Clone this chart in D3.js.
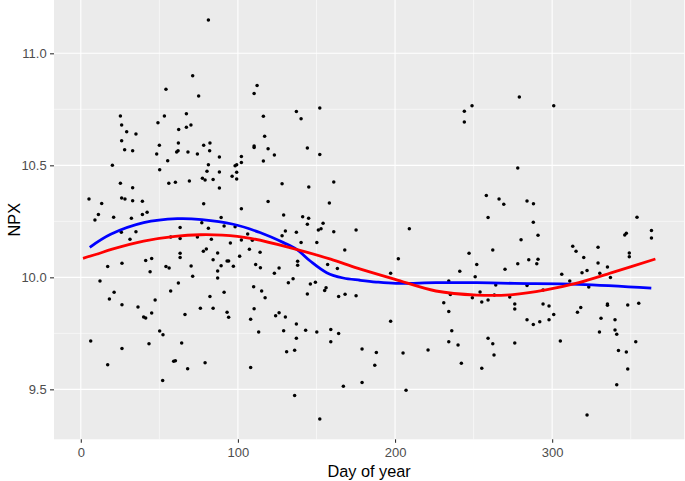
<!DOCTYPE html>
<html>
<head>
<meta charset="utf-8">
<script src="https://cdn.jsdelivr.net/npm/d3@7"></script>
<style>
html,body{margin:0;padding:0;background:#fff;}
svg{display:block;font-family:"Liberation Sans",Arial,Helvetica,sans-serif;}
</style>
</head>
<body>
<svg id="chart" width="685" height="481"></svg>
<script>
// ---- data ----
const pointDay = [
71.2,54.2,75.0,25.2,53.2,67.2,49.1,26.0,70.1,67.2,29.2,62.3,35.1,26.0,50.0,62.1,27.9,33.0,61.0,61.9,68.2,48.3,74.2,55.3,20.1,50.2,25.2,56.0,60.2,69.1,33.0,5.2,26.0,28.1,13.3,33.0,39.2,11.2,39.2,42.2,
81.2,112.2,110.3,137.2,140.2,152.1,116.2,117.0,78.2,82.2,82.0,110.3,110.3,119.2,144.2,123.2,152.1,88.2,102.2,102.2,116.2,81.2,98.2,99.2,80.3,88.2,99.2,77.4,79.1,84.2,96.3,99.2,128.1,145.1,161.0,88.2,78.2,119.2,158.2,102.2,129.1,
249.0,244.1,244.1,258.1,266.2,269.2,
279.1,301.0,278.1,284.0,288.1,
9.0,20.9,32.2,25.8,35.1,31.3,63.2,63.2,57.2,74.2,63.2,63.2,41.3,45.1,17.1,26.2,54.2,56.2,70.2,44.1,71.2,12.2,62.1,57.2,21.2,18.2,47.3,26.2,36.4,76.1,66.3,45.1,40.0,41.3,50.2,52.3,6.3,43.4,64.2,26.2,59.1,60.2,17.1,68.0,52.1,
89.3,77.0,81.2,91.2,98.2,141.2,145.0,144.2,154.2,151.2,152.9,161.0,175.2,106.2,130.2,128.1,137.2,83.1,95.2,102.2,109.2,140.2,150.2,78.0,79.9,87.1,107.3,114.1,168.0,84.2,93.1,94.1,101.1,138.0,138.0,89.3,97.1,111.3,114.3,126.2,157.1,163.3,87.1,87.1,123.2,135.1,132.1,146.1,149.3,110.0,115.1,155.2,156.1,117.3,144.2,164.1,168.2,175.2,82.2,91.2,84.2,110.3,93.1,94.1,124.0,126.2,130.2,108.1,137.2,113.2,129.1,143.1,150.2,159.1,164.1,137.2,159.1,131.0,136.1,79.1,108.1,167.1,136.1,152.1,
259.2,209.1,202.1,197.2,247.1,262.2,252.0,241.2,251.0,270.0,234.2,264.1,235.2,249.2,254.1,255.2,259.2,263.2,273.0,231.0,234.2,236.1,197.2,179.0,188.1,187.1,179.0,205.1,207.0,221.0,234.2,240.1,242.2,255.2,259.2,262.2,263.0,
288.0,280.2,291.0,278.1,285.1,291.0,290.2,284.0,294.2,276.2,276.2,294.2,298.0,301.0,284.0,288.0,292.1,298.0,276.2,305.2,306.1,311.2,313.1,315.2,320.1,319.0,322.2,323.3,329.2,329.2,330.3,335.2,337.1,318.2,316.1,335.2,335.2,331.1,330.1,340.0,340.0,341.1,342.2,347.2,348.1,341.1,353.2,348.1,355.1,346.2,347.2,349.1,349.1,363.2,363.2,354.0,322.2
];
const pointNPX = [
10.90,10.84,10.81,10.72,10.72,10.73,10.69,10.68,10.68,10.67,10.65,10.66,10.64,10.61,10.59,10.60,10.57,10.565,10.56,10.565,10.56,10.55,10.55,10.52,10.50,10.48,10.42,10.42,10.425,10.43,10.40,10.35,10.354,10.35,10.33,10.342,10.34,10.28,10.28,10.29,
11.149,10.856,10.821,10.74,10.708,10.756,10.719,10.63,10.59,10.60,10.565,10.586,10.58,10.574,10.577,10.546,10.548,10.537,10.539,10.513,10.519,10.503,10.498,10.503,10.473,10.470,10.469,10.442,10.434,10.437,10.451,10.439,10.418,10.403,10.426,10.399,10.329,10.339,10.332,10.306,10.278,
10.766,10.741,10.693,10.365,10.350,10.326,
10.805,10.766,10.488,10.341,10.329,
10.256,10.268,10.264,10.201,10.203,10.170,10.223,10.173,10.180,10.180,10.107,10.088,10.075,10.084,10.048,10.063,10.048,10.042,10.051,10.025,10.005,9.984,9.975,9.939,9.933,9.903,9.899,9.878,9.868,9.862,9.834,9.841,9.823,9.819,9.761,9.744,9.716,9.703,9.707,9.682,9.625,9.628,9.610,9.592,9.539,
10.267,10.244,10.219,10.229,10.226,10.271,10.264,10.237,10.241,10.211,10.217,10.204,10.211,10.194,10.207,10.186,10.201,10.170,10.153,10.167,10.165,10.156,10.156,10.116,10.127,10.109,10.125,10.112,10.122,10.078,10.073,10.073,10.094,10.072,10.054,10.052,10.049,10.057,10.043,10.042,10.057,10.039,10.028,9.997,10.018,9.994,9.976,9.970,9.978,9.958,9.939,9.941,9.954,9.909,9.926,9.914,9.924,9.918,9.915,9.933,9.862,9.860,9.844,9.822,9.828,9.842,9.823,9.813,9.792,9.756,9.762,9.764,9.756,9.767,9.749,9.728,9.713,9.668,9.674,9.619,9.598,9.514,9.472,9.368,
10.267,10.217,10.083,10.018,10.107,10.122,10.057,10.027,10.003,10.036,9.984,9.966,9.923,9.909,9.935,9.890,9.899,9.921,9.912,9.887,9.848,9.762,9.804,9.680,9.664,9.607,9.530,9.662,9.496,9.676,9.713,9.698,9.616,9.594,9.728,9.703,9.653,
10.246,10.168,10.188,10.061,10.078,10.081,10.061,9.963,9.944,9.881,9.859,9.881,9.872,9.834,9.811,9.790,9.802,9.811,9.707,9.716,10.014,9.984,10.139,10.116,10.088,10.021,10.031,9.957,10.134,10.064,10.018,10.046,9.999,9.865,9.844,9.881,9.875,9.817,9.756,9.811,9.765,9.746,9.673,9.667,9.591,9.521,9.713,9.877,9.884,10.189,10.197,10.109,10.092,10.209,10.176,10.268,9.386
];

// red smooth curve
const redDay = [1.4,10,20,40,60,76,90,108,133,159,176,200,226,252,275,296,317,338,365.7];
const redNPX = [10.085,10.103,10.126,10.162,10.183,10.190,10.188,10.174,10.133,10.081,10.041,9.991,9.939,9.921,9.923,9.944,9.976,10.021,10.082];

// blue smooth curve
const blueDay = [5.7,19,40,61.5,77,97,114,129,137.4,146,156.5,167,177.7,188,200.6,226,252,276,317,363.1];
const blueNPX = [10.134,10.192,10.244,10.262,10.258,10.237,10.200,10.155,10.125,10.073,10.021,9.997,9.987,9.979,9.973,9.976,9.976,9.973,9.969,9.952];

const xTicks = [0,100,200,300];
const xMinor = [50,150,250,350];
const yTicks = [9.5,10.0,10.5,11.0];
const yMinor = [9.75,10.25,10.75];

const xTitle = "Day of year";
const yTitle = "NPX";

// ---- drawing ----
const svg = d3.select("#chart");
const panel = {left:54, right:684.3, top:0, bottom:439.3};

const x = d3.scaleLinear().domain([-17.06,384.1]).range([panel.left, panel.right]);
const y = d3.scaleLinear().domain([9.277,11.238]).range([panel.bottom, panel.top]);

svg.append("rect")
  .attr("x",panel.left).attr("y",panel.top)
  .attr("width",panel.right-panel.left).attr("height",panel.bottom-panel.top)
  .attr("fill","#EBEBEB");

const grid = svg.append("g");
grid.selectAll(".xmin").data(xMinor).join("line")
  .attr("x1",d=>x(d)).attr("x2",d=>x(d)).attr("y1",panel.top).attr("y2",panel.bottom)
  .attr("stroke","#fff").attr("stroke-width",0.55);
grid.selectAll(".ymin").data(yMinor).join("line")
  .attr("y1",d=>y(d)).attr("y2",d=>y(d)).attr("x1",panel.left).attr("x2",panel.right)
  .attr("stroke","#fff").attr("stroke-width",0.55);
grid.selectAll(".xmaj").data(xTicks).join("line")
  .attr("x1",d=>x(d)).attr("x2",d=>x(d)).attr("y1",panel.top).attr("y2",panel.bottom)
  .attr("stroke","#fff").attr("stroke-width",1.1);
grid.selectAll(".ymaj").data(yTicks).join("line")
  .attr("y1",d=>y(d)).attr("y2",d=>y(d)).attr("x1",panel.left).attr("x2",panel.right)
  .attr("stroke","#fff").attr("stroke-width",1.1);

// points
const pts = pointDay.map((d,i)=>({day:d, v:pointNPX[i]}));
svg.append("g").selectAll("circle").data(pts).join("circle")
  .attr("cx",d=>x(d.day)).attr("cy",d=>y(d.v)).attr("r",1.75).attr("fill","#000");

// smooth lines
const line = d3.line().x(d=>x(d[0])).y(d=>y(d[1])).curve(d3.curveCatmullRom.alpha(0.5));
svg.append("path").datum(blueDay.map((d,i)=>[d,blueNPX[i]]))
  .attr("d",line).attr("fill","none").attr("stroke","#0000FF").attr("stroke-width",2.8);
svg.append("path").datum(redDay.map((d,i)=>[d,redNPX[i]]))
  .attr("d",line).attr("fill","none").attr("stroke","#FF0000").attr("stroke-width",2.8);

// axes
const xAxis = svg.append("g").attr("transform",`translate(0,${panel.bottom})`)
  .call(d3.axisBottom(x).tickValues(xTicks).tickSize(3.5).tickPadding(4.5).tickFormat(d3.format("d")));
const yAxis = svg.append("g").attr("transform",`translate(${panel.left},0)`)
  .call(d3.axisLeft(y).tickValues(yTicks).tickSize(4).tickPadding(3.3).tickFormat(d3.format(".1f")));
[xAxis,yAxis].forEach(a=>{
  a.select(".domain").remove();
  a.selectAll(".tick line").attr("stroke","#333333").attr("stroke-width",1.1);
  a.selectAll(".tick text").attr("fill","#4D4D4D").style("font-size","13px")
    .style("font-family","'Liberation Sans',Arial,Helvetica,sans-serif");
});

svg.append("text").attr("x",(panel.left+panel.right)/2).attr("y",476.5)
  .attr("text-anchor","middle").attr("fill","#000").style("font-size","16.3px").text(xTitle);
svg.append("text").attr("transform",`translate(19.5,${(panel.top+panel.bottom)/2}) rotate(-90)`)
  .attr("text-anchor","middle").attr("fill","#000").style("font-size","16.3px").text(yTitle);
</script>
</body>
</html>
